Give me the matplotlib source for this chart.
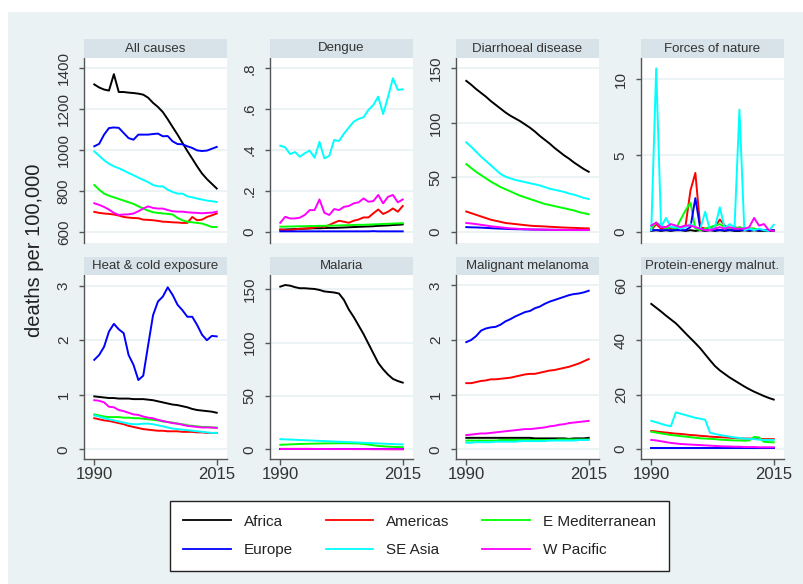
import numpy as np
import matplotlib.pyplot as plt
from matplotlib.patches import Rectangle
from matplotlib.lines import Line2D

plt.rcParams['font.family'] = ['Liberation Sans', 'DejaVu Sans']

years = list(range(1990, 2016))
regions = ['Africa', 'Americas', 'E Mediterranean', 'Europe', 'SE Asia', 'W Pacific']
colors = ['#000000', '#FF0000', '#00FF00', '#0000FF', '#00FFFF', '#FF00FF']

all_causes = {
    'Africa': [1320, 1305, 1295, 1290, 1370, 1283, 1283, 1280, 1278, 1275, 1270, 1255, 1230,
               1210, 1185, 1150, 1112, 1075, 1035, 995, 958, 920, 885, 858, 835, 812],
    'Americas': [698, 693, 690, 688, 685, 680, 673, 670, 668, 667, 660, 659, 657,
                 654, 650, 649, 647, 646, 644, 644, 673, 657, 660, 673, 681, 690],
    'E Mediterranean': [829, 806, 787, 777, 769, 761, 753, 745, 737, 725, 714, 704, 696,
                        693, 690, 688, 685, 668, 657, 650, 647, 644, 641, 633, 624, 624],
    'Europe': [1018, 1030, 1075, 1107, 1110, 1108, 1083, 1058, 1050, 1075, 1075, 1075, 1078,
               1080, 1067, 1068, 1042, 1029, 1028, 1018, 1010, 998, 995, 997, 1006, 1015],
    'SE Asia': [993, 972, 950, 933, 920, 911, 900, 888, 877, 865, 854, 843, 829,
                823, 822, 806, 795, 787, 787, 774, 769, 763, 758, 753, 750, 746],
    'W Pacific': [740, 732, 722, 709, 693, 683, 685, 686, 690, 701, 714, 725, 717,
                  714, 714, 707, 701, 699, 699, 696, 694, 693, 691, 693, 694, 699],
}

dengue = {
    'Africa': [0.010, 0.011, 0.012, 0.013, 0.014, 0.015, 0.016, 0.017, 0.017, 0.018, 0.019, 0.019, 0.020,
               0.021, 0.022, 0.023, 0.024, 0.025, 0.026, 0.027, 0.029, 0.030, 0.031, 0.033, 0.034, 0.036],
    'Americas': [0.011, 0.008, 0.008, 0.011, 0.015, 0.016, 0.017, 0.021, 0.028, 0.024, 0.033, 0.044, 0.054,
                 0.049, 0.044, 0.054, 0.060, 0.070, 0.070, 0.090, 0.109, 0.087, 0.098, 0.114, 0.098, 0.126],
    'E Mediterranean': [0.025, 0.025, 0.026, 0.026, 0.027, 0.027, 0.028, 0.028, 0.029, 0.029, 0.030, 0.030, 0.031,
                        0.032, 0.032, 0.033, 0.034, 0.034, 0.035, 0.036, 0.037, 0.038, 0.039, 0.040, 0.041, 0.042],
    'Europe': [0.002, 0.002, 0.002, 0.002, 0.002, 0.002, 0.002, 0.002, 0.002, 0.002, 0.002, 0.002, 0.002,
               0.002, 0.002, 0.002, 0.002, 0.002, 0.002, 0.003, 0.002, 0.002, 0.002, 0.002, 0.002, 0.002],
    'SE Asia': [0.421, 0.413, 0.380, 0.390, 0.367, 0.384, 0.397, 0.362, 0.440, 0.359, 0.371, 0.449, 0.444,
                0.480, 0.510, 0.539, 0.552, 0.560, 0.596, 0.620, 0.661, 0.576, 0.660, 0.751, 0.694, 0.697],
    'W Pacific': [0.044, 0.073, 0.065, 0.065, 0.069, 0.082, 0.106, 0.106, 0.158, 0.093, 0.082, 0.111, 0.106,
                  0.122, 0.126, 0.139, 0.144, 0.163, 0.147, 0.150, 0.180, 0.139, 0.171, 0.180, 0.144, 0.158],
}

diarrhoeal = {
    'Africa': [138.5, 135, 131, 127.5, 124, 120, 116.5, 113, 109.5, 106.5, 104, 101.5, 98.5,
               95.5, 92, 88, 84.5, 81, 77, 73.5, 70, 67, 63.5, 60.5, 57.5, 55],
    'Americas': [18.5, 17, 15.5, 14, 12.5, 11, 10, 9, 8, 7.5, 7, 6.5, 6,
                 5.5, 5.2, 5, 4.8, 4.5, 4.3, 4, 3.8, 3.6, 3.5, 3.3, 3.1, 3],
    'E Mediterranean': [62, 58.5, 55, 52, 49, 46, 43.5, 41, 39, 37, 35, 33, 31.5,
                        30, 28.5, 27, 25.5, 24.5, 23.5, 22.5, 21.5, 20.5, 19.5, 18, 17, 16],
    'Europe': [4.2, 4, 3.9, 3.7, 3.5, 3.2, 3, 2.8, 2.6, 2.4, 2.3, 2.2, 2.1,
               2, 1.9, 1.9, 1.8, 1.8, 1.7, 1.7, 1.6, 1.6, 1.5, 1.5, 1.5, 1.5],
    'SE Asia': [82, 78, 73.5, 69, 65, 61, 57, 53, 50.5, 49, 47.5, 46.5, 45.5,
                44.5, 43.5, 42.5, 41, 39.5, 38.5, 37.5, 36.5, 35, 34, 32.5, 31, 30],
    'W Pacific': [8, 7.5, 7, 6.3, 5.7, 5, 4.5, 4, 3.5, 3, 2.8, 2.5, 2.3,
                  2.1, 2, 1.9, 1.8, 1.7, 1.7, 1.6, 1.6, 1.5, 1.5, 1.5, 1.5, 1.5],
}

forces_of_nature = {
    'Africa': [0.05, 0.1, 0.05, 0.1, 0.05, 0.1, 0.1, 0.05, 0.1, 0.05, 0.1, 0.05, 0.1,
               0.05, 0.1, 0.05, 0.1, 0.05, 0.05, 0.1, 0.05, 0.1, 0.05, 0.05, 0.05, 0.05],
    'Americas': [0.1, 0.5, 0.2, 0.3, 0.2, 0.2, 0.3, 0.4, 2.7, 3.85, 0.3, 0.2, 0.2,
                 0.3, 0.8, 0.4, 0.2, 0.3, 0.2, 0.2, 0.2, 0.2, 0.1, 0.1, 0.1, 0.1],
    'E Mediterranean': [0.2, 0.6, 0.4, 0.2, 0.3, 0.2, 0.8, 1.4, 1.9, 0.2, 0.1, 0.2, 0.3,
                        0.4, 0.5, 0.3, 0.2, 0.2, 0.3, 0.2, 0.2, 0.2, 0.1, 0.1, 0.1, 0.1],
    'Europe': [0.1, 0.1, 0.1, 0.1, 0.1, 0.1, 0.1, 0.1, 0.3, 2.2, 0.2, 0.1, 0.1,
               0.1, 0.1, 0.1, 0.1, 0.1, 0.1, 0.1, 0.1, 0.1, 0.1, 0.1, 0.1, 0.1],
    'SE Asia': [0.1, 10.7, 0.3, 0.9, 0.3, 0.3, 0.2, 0.3, 0.5, 0.3, 0.2, 1.3, 0.1,
                0.3, 1.6, 0.2, 0.5, 0.3, 8.0, 0.1, 0.2, 0.1, 0.2, 0.1, 0.05, 0.45],
    'W Pacific': [0.4, 0.6, 0.3, 0.3, 0.5, 0.4, 0.3, 0.4, 0.4, 0.3, 0.2, 0.1, 0.1,
                  0.2, 0.3, 0.2, 0.3, 0.2, 0.2, 0.2, 0.3, 0.9, 0.4, 0.5, 0.1, 0.05],
}

heat_cold = {
    'Africa': [0.97, 0.96, 0.95, 0.94, 0.94, 0.93, 0.93, 0.93, 0.92, 0.92, 0.92, 0.91, 0.90,
               0.88, 0.86, 0.84, 0.82, 0.81, 0.79, 0.77, 0.74, 0.72, 0.71, 0.70, 0.69, 0.67],
    'Americas': [0.57, 0.55, 0.53, 0.52, 0.50, 0.48, 0.46, 0.43, 0.41, 0.39, 0.37, 0.36, 0.35,
                 0.34, 0.34, 0.33, 0.33, 0.33, 0.32, 0.32, 0.32, 0.31, 0.31, 0.30, 0.30, 0.30],
    'E Mediterranean': [0.64, 0.62, 0.60, 0.59, 0.59, 0.59, 0.58, 0.58, 0.57, 0.57, 0.56, 0.55, 0.54,
                        0.53, 0.51, 0.50, 0.49, 0.47, 0.46, 0.44, 0.43, 0.42, 0.41, 0.41, 0.40, 0.40],
    'Europe': [1.64, 1.73, 1.88, 2.16, 2.30, 2.20, 2.13, 1.73, 1.55, 1.27, 1.35, 1.91, 2.46,
               2.71, 2.80, 2.97, 2.83, 2.65, 2.55, 2.43, 2.43, 2.28, 2.10, 2.00, 2.08, 2.07],
    'SE Asia': [0.62, 0.60, 0.57, 0.55, 0.53, 0.51, 0.49, 0.47, 0.46, 0.46, 0.47, 0.47, 0.46,
                0.44, 0.42, 0.40, 0.38, 0.37, 0.36, 0.35, 0.34, 0.33, 0.32, 0.31, 0.30, 0.30],
    'W Pacific': [0.90, 0.89, 0.86, 0.78, 0.77, 0.72, 0.70, 0.67, 0.64, 0.63, 0.60, 0.58, 0.57,
                  0.54, 0.52, 0.50, 0.48, 0.47, 0.45, 0.43, 0.42, 0.41, 0.40, 0.40, 0.40, 0.39],
}

malaria = {
    'Africa': [152.5, 154, 153.4, 152, 151, 151, 150.6, 150.3, 149.4, 148, 147.5, 147, 146,
               140, 131, 124, 116, 108, 99, 90, 81, 75, 70, 66, 64, 62.5],
    'Americas': [0.4, 0.4, 0.4, 0.4, 0.4, 0.4, 0.4, 0.3, 0.3, 0.3, 0.3, 0.3, 0.3,
                 0.3, 0.3, 0.2, 0.2, 0.2, 0.2, 0.2, 0.2, 0.2, 0.1, 0.1, 0.1, 0.1],
    'E Mediterranean': [4.2, 4.4, 4.6, 4.8, 5.0, 5.1, 5.2, 5.3, 5.4, 5.5, 5.6, 5.6, 5.7,
                        5.7, 5.6, 5.5, 5.4, 5.0, 4.4, 3.8, 3.2, 2.8, 2.5, 2.3, 2.1, 2.0],
    'Europe': [0.0, 0.0, 0.0, 0.0, 0.0, 0.0, 0.0, 0.0, 0.0, 0.0, 0.0, 0.0, 0.0,
               0.0, 0.0, 0.0, 0.0, 0.0, 0.0, 0.0, 0.0, 0.0, 0.0, 0.0, 0.0, 0.0],
    'SE Asia': [9.5, 9.3, 9.1, 8.9, 8.7, 8.5, 8.3, 8.1, 7.9, 7.7, 7.5, 7.3, 7.1,
                6.9, 6.7, 6.5, 6.3, 6.1, 5.9, 5.7, 5.5, 5.3, 5.1, 4.9, 4.7, 4.5],
    'W Pacific': [0.3, 0.3, 0.3, 0.3, 0.3, 0.3, 0.3, 0.3, 0.3, 0.3, 0.2, 0.2, 0.2,
                  0.2, 0.2, 0.2, 0.2, 0.2, 0.2, 0.1, 0.1, 0.1, 0.1, 0.1, 0.1, 0.1],
}

melanoma = {
    'Africa': [0.21, 0.21, 0.21, 0.21, 0.21, 0.21, 0.21, 0.21, 0.21, 0.21, 0.21, 0.21, 0.21,
               0.21, 0.20, 0.20, 0.20, 0.20, 0.20, 0.20, 0.20, 0.19, 0.20, 0.20, 0.20, 0.21],
    'Americas': [1.21, 1.21, 1.23, 1.25, 1.26, 1.28, 1.28, 1.29, 1.30, 1.31, 1.33, 1.35, 1.37,
                 1.38, 1.38, 1.40, 1.42, 1.44, 1.45, 1.47, 1.49, 1.51, 1.54, 1.57, 1.61, 1.65],
    'E Mediterranean': [0.16, 0.16, 0.16, 0.16, 0.16, 0.16, 0.16, 0.17, 0.17, 0.17, 0.17, 0.17, 0.17,
                        0.17, 0.17, 0.17, 0.17, 0.17, 0.17, 0.18, 0.18, 0.18, 0.18, 0.18, 0.18, 0.18],
    'Europe': [1.96, 2.00, 2.07, 2.17, 2.21, 2.23, 2.24, 2.28, 2.34, 2.38, 2.43, 2.47, 2.51,
               2.53, 2.58, 2.61, 2.66, 2.70, 2.73, 2.76, 2.79, 2.82, 2.84, 2.85, 2.87, 2.90],
    'SE Asia': [0.12, 0.12, 0.13, 0.13, 0.13, 0.13, 0.14, 0.14, 0.14, 0.14, 0.14, 0.15, 0.15,
                0.15, 0.15, 0.15, 0.15, 0.16, 0.16, 0.16, 0.16, 0.16, 0.16, 0.17, 0.17, 0.17],
    'W Pacific': [0.26, 0.27, 0.28, 0.29, 0.29, 0.30, 0.31, 0.32, 0.33, 0.34, 0.35, 0.36, 0.37,
                  0.37, 0.38, 0.39, 0.40, 0.42, 0.43, 0.45, 0.46, 0.48, 0.49, 0.50, 0.51, 0.52],
}

protein_energy = {
    'Africa': [53.3, 51.9, 50.5, 49.0, 47.6, 46.2, 44.4, 42.5, 40.7, 38.9, 37.0, 34.8, 32.6,
               30.5, 28.9, 27.6, 26.3, 25.2, 24.1, 23.0, 22.0, 21.1, 20.3, 19.5, 18.8, 18.2],
    'Americas': [6.7, 6.5, 6.3, 6.1, 5.9, 5.7, 5.6, 5.4, 5.2, 5.1, 4.9, 4.8, 4.6,
                 4.5, 4.4, 4.3, 4.2, 4.1, 4.0, 3.9, 3.9, 3.8, 3.8, 3.7, 3.7, 3.7],
    'E Mediterranean': [6.4, 6.1, 5.8, 5.5, 5.2, 5.0, 4.8, 4.6, 4.4, 4.2, 4.0, 3.9, 3.8,
                        3.7, 3.5, 3.4, 3.3, 3.2, 3.2, 3.1, 3.2, 4.5, 4.3, 2.7, 2.6, 2.5],
    'Europe': [0.6, 0.6, 0.6, 0.6, 0.6, 0.6, 0.6, 0.6, 0.6, 0.6, 0.6, 0.6, 0.6,
               0.6, 0.6, 0.6, 0.6, 0.6, 0.6, 0.6, 0.6, 0.6, 0.6, 0.6, 0.6, 0.6],
    'SE Asia': [10.4, 9.9, 9.3, 8.8, 8.4, 13.5, 13.0, 12.5, 12.0, 11.5, 11.2, 10.8, 6.0,
                5.6, 5.2, 4.9, 4.6, 4.3, 4.1, 3.9, 3.8, 3.7, 3.5, 3.4, 3.4, 3.4],
    'W Pacific': [3.4, 3.2, 2.9, 2.6, 2.3, 2.1, 1.9, 1.8, 1.7, 1.6, 1.5, 1.4, 1.3,
                  1.2, 1.1, 1.0, 1.0, 0.9, 0.9, 0.8, 0.8, 0.8, 0.7, 0.7, 0.7, 0.7],
}

titles = ['All causes', 'Dengue', 'Diarrhoeal disease', 'Forces of nature',
          'Heat & cold exposure', 'Malaria', 'Malignant melanoma', 'Protein-energy malnut.']
panels = [all_causes, dengue, diarrhoeal, forces_of_nature,
          heat_cold, malaria, melanoma, protein_energy]
yticks = [[600, 800, 1000, 1200, 1400], [0, 0.2, 0.4, 0.6, 0.8], [0, 50, 100, 150], [0, 5, 10],
          [0, 1, 2, 3], [0, 50, 100, 150], [0, 1, 2, 3], [0, 20, 40, 60]]
ylabels = [None, ['0', '.2', '.4', '.6', '.8'], None, None, None, None, None, None]
ylims = [(546, 1449), (-0.055, 0.85), (-10.4, 159.5), (-0.74, 11.38),
         (-0.178, 3.196), (-9.1, 163.4), (-0.177, 3.188), (-3.6, 63.9)]

bg = '#EAF2F3'
strip = '#D7E3E8'
W, H = 804, 584

fig = plt.figure(figsize=(W / 100, H / 100), dpi=100, facecolor='white')
fig.patches.append(Rectangle((8 / W, 0), 1, 1 - 12 / H, transform=fig.transFigure,
                             facecolor=bg, edgecolor='none', zorder=-10))

col_left = [84, 270, 456, 641]
pw = 143
strip_top = [39, 257]
plot_top = [58, 275]
plot_bot = [243, 459]

for i, (title, data) in enumerate(zip(titles, panels)):
    r, c = divmod(i, 4)
    x0 = col_left[c]
    ax = fig.add_axes([x0 / W, 1 - plot_bot[r] / H, pw / W, (plot_bot[r] - plot_top[r]) / H])
    for reg, col in zip(regions, colors):
        ax.plot(years, data[reg], color=col, lw=1.4, solid_joinstyle='round')
    ax.set_xlim(1987.9, 2017.1)
    ax.set_ylim(*ylims[i])
    ax.set_yticks(yticks[i])
    if ylabels[i]:
        ax.set_yticklabels(ylabels[i])
    ax.yaxis.grid(True, color=bg, lw=1.3)
    ax.set_axisbelow(True)
    ax.set_facecolor('white')
    for s in ['top', 'right']:
        ax.spines[s].set_visible(False)
    ax.spines['left'].set_color('#555555')
    ax.spines['left'].set_linewidth(1.0)
    ax.tick_params(axis='y', length=3.5, width=1, color='#555555', labelsize=11,
                   labelcolor='#333333', pad=6, labelrotation=90)
    for lab in ax.get_yticklabels():
        lab.set_va('center')
    if r == 1:
        ax.spines['bottom'].set_color('#555555')
        ax.spines['bottom'].set_linewidth(1.0)
        ax.set_xticks([1990, 2015])
        ax.tick_params(axis='x', length=4, width=1, color='#555555', labelsize=12,
                       labelcolor='#333333', pad=2)
    else:
        ax.spines['bottom'].set_visible(False)
        ax.set_xticks([])

    sax = fig.add_axes([x0 / W, 1 - plot_top[r] / H, pw / W, (plot_top[r] - strip_top[r]) / H])
    sax.set_facecolor(strip)
    sax.set_xticks([])
    sax.set_yticks([])
    for s in sax.spines.values():
        s.set_visible(False)
    sax.text(0.5, 0.5, title, ha='center', va='center', fontsize=9.5, color='#333333',
             transform=sax.transAxes)

fig.text(35 / W, 1 - 250 / H, 'deaths per 100,000', rotation=90, ha='center', va='center',
         fontsize=14.5, color='#222222')

handles = [Line2D([], [], color=col, lw=1.3) for col in colors]
order = [0, 3, 1, 4, 2, 5]
leg = fig.legend([handles[k] for k in order], [regions[k] for k in order], ncol=3,
                 loc='center', bbox_to_anchor=(419.5 / W, 1 - 536 / H), fontsize=11,
                 frameon=True, fancybox=False, edgecolor='#222222', facecolor='white',
                 handlelength=3.1, handletextpad=0.85, columnspacing=2.15,
                 labelspacing=0.95, borderpad=0.9, framealpha=1)
leg.get_frame().set_linewidth(1.0)
for t in leg.get_texts():
    t.set_color('#222222')

fig.savefig('out.png', dpi=100, facecolor=fig.get_facecolor())
